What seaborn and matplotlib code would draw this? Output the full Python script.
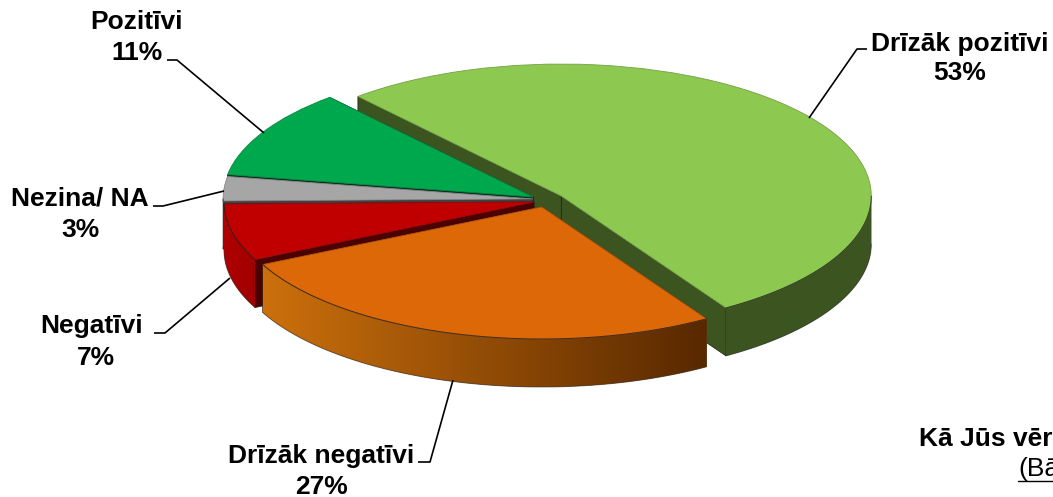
import numpy as np
import matplotlib
matplotlib.use('Agg')
import matplotlib.pyplot as plt
from matplotlib.patches import Polygon
import seaborn as sns

sns.set_theme(style='white')
plt.rcParams['font.family'] = ['Liberation Sans', 'DejaVu Sans']

# values as printed on the chart (they add up to 101 because of rounding)
labels = ['Drīzāk pozitīvi', 'Drīzāk negatīvi', 'Negatīvi', 'Nezina/ NA', 'Pozitīvi']
values = [53, 27, 7, 3, 11]

top_colors = ['#8dc950', '#dd6808', '#c00000', '#a6a6a6', '#00a84d']
rim_left = ['#3c5520', '#cc700c', '#b00000', '#808080', '#007a38']
rim_right = ['#3c5520', '#582800', '#a00000', '#808080', '#007a38']
cut_colors = ['#3c5520', '#582800', '#4d0000', '#404040', '#00331a']

# back to front: light green, green, grey, red, orange
draw_rank = [0, 4, 3, 2, 1]

# size of the drawing in pixels
W, H = 1053, 497
CX, CY = 534, 200
RX, RY = 310, 132
DEPTH = 48 / RY

# how far each slice is pulled out, in units of the radius
shift_x = [0.088, 0.025, 0.000, -0.003, -0.003]
shift_y = [0.030, -0.053, -0.015, 0.008, 0.023]

fig = plt.figure(figsize=(W / 100, H / 100), dpi=100)
ax = fig.add_axes([0, 0, 1, 1])

wedges, _ = ax.pie(values, colors=top_colors, startangle=131, counterclock=False,
                   wedgeprops={'linewidth': 0.6})
ax.set_aspect('auto')
xlim = (-CX / RX, (W - CX) / RX)
ylim = ((CY - H) / RY, CY / RY)


def draw_rim(x0, y0, t1, t2, left, right, z):
    # only the part of the edge facing the viewer
    lo = max(t1, -180)
    hi = min(t2, 0)
    if lo >= hi:
        return
    ang = np.radians(np.linspace(lo, hi, 120))
    xs = x0 + np.cos(ang)
    ys = y0 + np.sin(ang)
    verts = np.vstack([np.column_stack([xs, ys]),
                       np.column_stack([xs[::-1], ys[::-1] - DEPTH])])
    ax.fill(verts[:, 0], verts[:, 1], color=sns.blend_palette([left, right], 3)[1], lw=0, zorder=z)
    # left to right shading, clipped to the shape of the rim
    cmap = sns.blend_palette([left, right], as_cmap=True)
    im = ax.imshow(np.linspace(0, 1, 256)[None, :], cmap=cmap, aspect='auto', zorder=z,
                   extent=(xs.min(), xs.max(), ys.min() - DEPTH, ys.max()))
    im.set_clip_path(Polygon(verts, transform=ax.transData))
    ax.plot(xs, ys - DEPTH, color='#333333', lw=0.7, alpha=0.6, zorder=z)
    ax.plot(xs, ys, color='#222222', lw=0.7, alpha=0.8, zorder=z + 2)


for i, w in enumerate(wedges):
    z = 2 + draw_rank[i] * 3
    x0, y0 = shift_x[i], shift_y[i]
    w.set_center((x0, y0))
    w.set_zorder(z + 1)
    w.set_edgecolor(sns.dark_palette(top_colors[i], 5)[3])
    t1, t2 = w.theta1, w.theta2
    for t in (t1, t2):
        ex, ey = x0 + np.cos(np.radians(t)), y0 + np.sin(np.radians(t))
        ax.fill([x0, ex, ex, x0], [y0, ey, ey - DEPTH, y0 - DEPTH],
                facecolor=cut_colors[i], edgecolor='#1c1c1c', lw=0.5, zorder=z)
    # the slices wrap through -360..0, so try the rim range both ways
    draw_rim(x0, y0, t1, t2, rim_left[i], rim_right[i], z)
    draw_rim(x0, y0, t1 - 360, t2 - 360, rim_left[i], rim_right[i], z)

ax.set_xlim(xlim)
ax.set_ylim(ylim)
ax.axis('off')

# labels and leader lines sit on a pixel overlay
over = fig.add_axes([0, 0, 1, 1], facecolor='none')
over.set_xlim(0, W)
over.set_ylim(H, 0)
over.axis('off')

name_pos = [(960, 44), (321, 456), (92, 326), (80, 198), (136, 22)]
pct_pos = [(960, 73), (322, 487), (96, 358), (80, 230), (137, 53)]
leader_x = [(809, 857, 867), (453, 430, 418), (230, 165, 154), (224, 163, 153), (264, 177, 167)]
leader_y = [(118, 49, 49), (380, 462, 462), (278, 333, 333), (191, 206, 206), (133, 60, 60)]

for i, name in enumerate(labels):
    over.text(*name_pos[i], name, ha='center', va='center', fontsize=19, weight='bold', color='black')
    over.text(*pct_pos[i], f'{values[i]}%', ha='center', va='center', fontsize=19, weight='bold', color='black')
    over.plot(leader_x[i], leader_y[i], color='black', lw=1.2, solid_capstyle='butt')

# the question text runs off the right edge in the original
over.text(919, 439, 'Kā Jūs vēr', ha='left', va='center', fontsize=19, weight='bold', color='black')
over.text(1018, 469, '(Bā', ha='left', va='center', fontsize=19, color='black')
over.plot([1018, W], [481, 481], color='black', lw=1.0)

fig.savefig('out.png', dpi=100, facecolor='white')
